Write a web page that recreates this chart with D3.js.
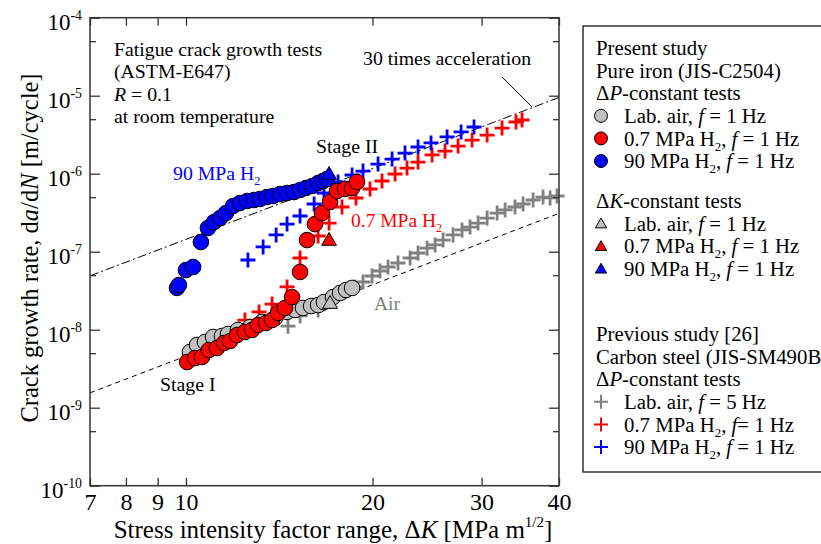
<!DOCTYPE html>
<html>
<head>
<meta charset="utf-8">
<script src="https://cdn.jsdelivr.net/npm/d3@7"></script>
<style>
	body{margin:0;background:#fff;}
	svg{font-family:"Liberation Serif","Times New Roman",serif;}
</style>
</head>
<body>
<script>
(function(){

	//data: [deltaK (MPa m^1/2), da/dN (m/cycle)]
	//present study, pure iron, dP-constant (circles)
	var ironAir = [[10.15,5.18e-9],[10.42,6.37e-9],[10.73,6.95e-9],[11.06,8.06e-9],[11.43,8.30e-9],
		[11.69,8.81e-9],[12.13,9.91e-9],[12.69,1.08e-8],[13.27,1.26e-8],[13.92,1.41e-8],
		[14.56,1.69e-8],[15.00,1.79e-8],[15.45,1.90e-8],[15.92,2.01e-8],[16.34,2.07e-8],
		[16.70,2.26e-8],[17.27,2.62e-8],[17.73,2.96e-8],[18.13,3.23e-8],[18.54,3.43e-8]];
	var iron07 = [[10.04,3.85e-9],[10.34,4.33e-9],[10.61,4.46e-9],[10.89,5.49e-9],[11.22,5.82e-9],
		[11.52,6.75e-9],[11.78,7.16e-9],[12.09,8.55e-9],[12.45,9.35e-9],[12.78,9.91e-9],
		[13.07,1.15e-8],[13.47,1.22e-8],[13.77,1.33e-8],[14.08,1.64e-8],[14.45,1.90e-8],
		[14.83,2.62e-8],[15.28,5.50e-8],[15.68,1.41e-7],[16.15,2.26e-7],[16.58,3.13e-7],
		[17.08,4.34e-7],[17.53,6.00e-7],[18.06,6.37e-7],[18.54,6.56e-7],[18.88,7.83e-7]];
	var iron90 = [[9.67,3.43e-8],[9.74,3.74e-8],[10.00,5.82e-8],[10.27,6.37e-8],[10.57,1.33e-7],
		[10.85,2.01e-7],[11.10,2.40e-7],[11.35,2.70e-7],[11.60,3.13e-7],[11.91,3.85e-7],
		[12.22,4.21e-7],[12.55,4.47e-7],[12.88,4.60e-7],[13.17,4.74e-7],[13.51,5.02e-7],
		[13.82,5.18e-7],[14.18,5.49e-7],[14.56,5.66e-7],[14.94,5.82e-7],[15.28,6.18e-7],
		[15.62,6.56e-7],[15.98,6.95e-7],[16.34,7.60e-7],[16.64,8.06e-7],[16.89,8.55e-7]];

	//present study, dK-constant (triangles)
	var dkAir = [[17.08,2.13e-8]];
	var dk07 = [[17.02,1.37e-7]];
	var dk90 = [[17.02,9.62e-7]];

	//previous study, carbon steel (crosses)
	var steelAir = [[14.61,1.11e-8],[15.28,1.50e-8],[16.34,1.79e-8],[18.06,3.04e-8],[18.74,3.53e-8],
		[19.31,4.09e-8],[19.97,4.88e-8],[20.57,5.66e-8],[21.19,6.37e-8],[21.99,7.16e-8],
		[23.00,8.30e-8],[23.69,9.62e-8],[24.50,1.11e-7],[25.24,1.22e-7],[26.00,1.41e-7],
		[26.98,1.64e-7],[27.90,1.90e-7],[28.74,2.07e-7],[29.61,2.33e-7],[30.62,2.70e-7],
		[31.78,3.13e-7],[32.74,3.43e-7],[33.97,3.74e-7],[35.00,4.09e-7],[36.33,4.60e-7],
		[37.70,5.02e-7],[38.70,4.89e-7],[39.71,5.18e-7]];
	var steel07 = [[12.45,1.33e-8],[13.12,1.69e-8],[13.77,2.13e-8],[14.56,3.53e-8],[15.28,8.30e-8],
		[16.34,1.59e-7],[17.02,2.33e-7],[17.86,3.74e-7],[18.81,4.88e-7],[19.82,6.37e-7],
		[20.72,8.06e-7],[21.75,9.91e-7],[22.74,1.18e-6],[23.69,1.41e-6],[24.96,1.74e-6],
		[26.19,1.95e-6],[27.49,2.26e-6],[28.96,2.70e-6],[30.62,3.13e-6],[32.37,3.85e-6],
		[34.10,4.60e-6],[34.87,4.88e-6]];
	var steel90 = [[12.59,7.83e-8],[13.32,1.15e-7],[13.98,1.64e-7],[14.56,2.26e-7],[15.28,2.87e-7],
		[16.10,4.09e-7],[16.70,5.66e-7],[17.60,7.83e-7],[18.54,9.62e-7],[19.31,1.08e-6],
		[20.42,1.33e-6],[21.51,1.54e-6],[22.57,1.84e-6],[23.69,2.20e-6],[24.86,2.48e-6],
		[26.39,2.96e-6],[27.80,3.43e-6],[29.17,3.97e-6]];

	//reference lines (Paris-law type, slope ~3)
	var airLine = [[7,1.55e-9],[40,3.1e-7]];
	var accelLine = [[7,4.9e-8],[40,9.5e-6]];

	//ticks
	var xTicks = [7,8,9,10,20,30,40];
	var yTicks = [1e-10,1e-9,1e-8,1e-7,1e-6,1e-5,1e-4];
	var yMinor = [5e-10,5e-9,5e-8,5e-7,5e-6,5e-5];

	//legend rows
	var legendPresent = [["Present study"],["Pure iron (JIS-C2504)"],["\u0394*P*-constant tests"],
		["Lab. air, *f* = 1 Hz","circle","#c0c0c0"],["0.7 MPa H_{2}, *f* = 1 Hz","circle","#ff0000"],
		["90 MPa H_{2}, *f* = 1 Hz","circle","#0000ff"]];
	var legendDk = [["\u0394*K*-constant tests"],["Lab. air, *f* = 1 Hz","tri","#c0c0c0"],
		["0.7 MPa H_{2}, *f* = 1 Hz","tri","#ff0000"],["90 MPa H_{2}, *f* = 1 Hz","tri","#0000ff"]];
	var legendPrev = [["Previous study [26]"],["Carbon steel (JIS-SM490B)"],["\u0394*P*-constant tests"],
		["Lab. air, *f* = 5 Hz","cross","#808080"],["0.7 MPa H_{2}, *f*= 1 Hz","cross","#ff0000"],
		["90 MPa H_{2}, *f* = 1 Hz","cross","#0000ff"]];

	var width = 821, height = 544;
	var left = 90, right = 559, top = 17.7, bottom = 485.7;

	var svg = d3.select("body").append("svg")
		.attr("width", width)
		.attr("height", height);

	var x = d3.scaleLog().domain([7,40]).range([left,right]);
	var y = d3.scaleLog().domain([1e-10,1e-4]).range([bottom,top]);

	//small markup: _{sub} ^{sup} *italic*
	function rich(sel, str, size){
		var pieces = str.split(/(_\{[^}]*\}|\^\{[^}]*\}|\*[^*]*\*)/).filter(function(s){ return s.length; });
		var shift = 0;
		pieces.forEach(function(s){
			var sp = sel.append("tspan"), txt = s, dy = -shift;
			shift = 0;
			if (s[0] == "_"){ txt = s.slice(2,-1); shift = size*0.24; sp.style("font-size", size*0.62 + "px"); }
			else if (s[0] == "^"){ txt = s.slice(2,-1); shift = -size*0.42; sp.style("font-size", size*0.6 + "px"); }
			else if (s[0] == "*"){ txt = s.slice(1,-1); sp.style("font-style","italic"); }
			dy += shift;
			if (dy) sp.attr("dy", dy);
			sp.text(txt);
		});
	}

	function label(str, px, py, size, color, anchor){
		var t = svg.append("text")
			.attr("x", px).attr("y", py)
			.attr("dy", "0.35em")
			.attr("text-anchor", anchor || "start")
			.style("font-size", size + "px")
			.style("fill", color || "#000");
		rich(t, str, size);
		return t;
	}

	//reference lines
	var line = d3.line().x(function(d){ return x(d[0]); }).y(function(d){ return y(d[1]); });
	svg.append("path").datum(airLine).attr("d", line)
		.attr("fill","none").attr("stroke","#000").attr("stroke-width",1)
		.attr("stroke-dasharray","5,4");
	svg.append("path").datum(accelLine).attr("d", line)
		.attr("fill","none").attr("stroke","#000").attr("stroke-width",1)
		.attr("stroke-dasharray","9,3,2,3");

	//crosses
	function crosses(data, color){
		svg.append("g").selectAll("path").data(data).enter().append("path")
			.attr("transform", function(d){ return "translate(" + x(d[0]) + "," + y(d[1]) + ")"; })
			.attr("d","M-7.5,0H7.5M0,-7.5V7.5")
			.attr("stroke", color).attr("stroke-width", 2.8).attr("fill","none");
	}
	crosses(steelAir, "#808080");
	crosses(steel07, "#ff0000");
	crosses(steel90, "#0000ff");

	//circles
	function circles(data, color){
		svg.append("g").selectAll("circle").data(data).enter().append("circle")
			.attr("cx", function(d){ return x(d[0]); })
			.attr("cy", function(d){ return y(d[1]); })
			.attr("r", 7.8)
			.attr("fill", color).attr("stroke","#000").attr("stroke-width",1);
	}
	circles(ironAir, "#c0c0c0");
	circles(iron07, "#ff0000");
	circles(iron90, "#0000ff");

	//triangles
	var tri = d3.symbol().type(d3.symbolTriangle).size(95);
	function triangles(data, color){
		svg.append("g").selectAll("path").data(data).enter().append("path")
			.attr("transform", function(d){ return "translate(" + x(d[0]) + "," + y(d[1]) + ")"; })
			.attr("d", tri)
			.attr("fill", color).attr("stroke","#000").attr("stroke-width",1);
	}
	triangles(dkAir, "#c0c0c0");
	triangles(dk07, "#ff0000");
	triangles(dk90, "#0000ff");

	//axes
	var axisColor = "#333";
	var xAxis = svg.append("g").attr("class","axis")
		.attr("transform","translate(0," + bottom + ")")
		.call(d3.axisBottom(x).tickValues(xTicks).tickSizeInner(-8).tickSizeOuter(0).tickPadding(7)
			.tickFormat(d3.format("d")));
	svg.append("g").attr("transform","translate(0," + top + ")")
		.call(d3.axisTop(x).tickValues(xTicks).tickSizeInner(-8).tickSizeOuter(0).tickFormat(""));
	var yAxis = svg.append("g").attr("class","axis")
		.attr("transform","translate(" + left + ",0)")
		.call(d3.axisLeft(y).tickValues(yTicks).tickSizeInner(-10).tickSizeOuter(0).tickPadding(8)
			.tickFormat(function(d){ return ""; }));
	svg.append("g").attr("transform","translate(" + left + ",0)")
		.call(d3.axisLeft(y).tickValues(yMinor).tickSizeInner(-6).tickSizeOuter(0).tickFormat(""));
	svg.append("g").attr("transform","translate(" + right + ",0)")
		.call(d3.axisRight(y).tickValues(yTicks).tickSizeInner(-10).tickSizeOuter(0).tickFormat(""));
	svg.append("g").attr("transform","translate(" + right + ",0)")
		.call(d3.axisRight(y).tickValues(yMinor).tickSizeInner(-6).tickSizeOuter(0).tickFormat(""));

	svg.selectAll(".domain").remove();
	svg.selectAll(".tick line").attr("stroke", axisColor).attr("stroke-width", 1.3);
	svg.append("rect")
		.attr("x", left).attr("y", top)
		.attr("width", right - left).attr("height", bottom - top)
		.attr("fill","none").attr("stroke", axisColor).attr("stroke-width", 1.5);

	xAxis.selectAll("text")
		.style("font-family","Liberation Serif, serif")
		.style("font-size","24px").attr("fill","#000");
	yAxis.selectAll(".tick text")
		.style("font-family","Liberation Serif, serif")
		.style("font-size","23px").attr("fill","#000")
		.attr("dy","0.5em")
		.each(function(d){
			rich(d3.select(this), "10^{" + Math.round(Math.log10(d)) + "}", 23);
		});

	//axis titles
	label("Stress intensity factor range, \u0394*K* [MPa m^{1/2}]", 333, 529, 25, "#000", "middle");
	label("Crack growth rate, d*a*/d*N* [m/cycle]", 0, 0, 24.5, "#000", "middle")
		.attr("transform","translate(29,248) rotate(-90)");

	//annotations
	label("Fatigue crack growth tests", 114, 49, 19.8);
	label("(ASTM-E647)", 114, 71.5, 19.8);
	label("*R* = 0.1", 114, 94, 19.8);
	label("at room temperature", 114, 116, 19.8);
	label("30 times acceleration", 363, 58, 19.8);
	svg.append("line").attr("x1",502).attr("y1",77).attr("x2",532).attr("y2",107)
		.attr("stroke","#000").attr("stroke-width",1);
	label("Stage II", 316, 146, 19.8);
	label("Stage I", 160, 384, 19.8);
	label("90 MPa H_{2}", 173, 173, 19.8, "#0000ff");
	label("0.7 MPa H_{2}", 351, 220, 19.5, "#ff0000");
	label("Air", 374, 303, 19.5, "#808080");

	//legend (box runs past the right edge, as in the original figure)
	svg.append("rect")
		.attr("x", 583).attr("y", 26).attr("width", 260).attr("height", 446)
		.attr("fill","#fff").attr("stroke", axisColor).attr("stroke-width", 1.5);

	var rowH = 22.6;
	function legendGroup(rows, y0){
		rows.forEach(function(r, i){
			var cy = y0 + i*rowH;
			if (!r[1]){
				label(r[0], 596, cy, 20.8);
				return;
			}
			label(r[0], 624, cy, 20.8);
			if (r[1] == "circle"){
				svg.append("circle").attr("cx",601).attr("cy",cy).attr("r",6.5)
					.attr("fill",r[2]).attr("stroke","#000").attr("stroke-width",1);
			} else if (r[1] == "tri"){
				svg.append("path").attr("transform","translate(601," + (cy + 1) + ")")
					.attr("d", d3.symbol().type(d3.symbolTriangle).size(55))
					.attr("fill",r[2]).attr("stroke","#000").attr("stroke-width",1);
			} else {
				svg.append("path").attr("transform","translate(601," + cy + ")")
					.attr("d","M-7,0H7M0,-7V7")
					.attr("stroke",r[2]).attr("stroke-width",2).attr("fill","none");
			}
		});
	}
	legendGroup(legendPresent, 48);
	legendGroup(legendDk, 201);
	legendGroup(legendPrev, 334);

})();
</script>
</body>
</html>
